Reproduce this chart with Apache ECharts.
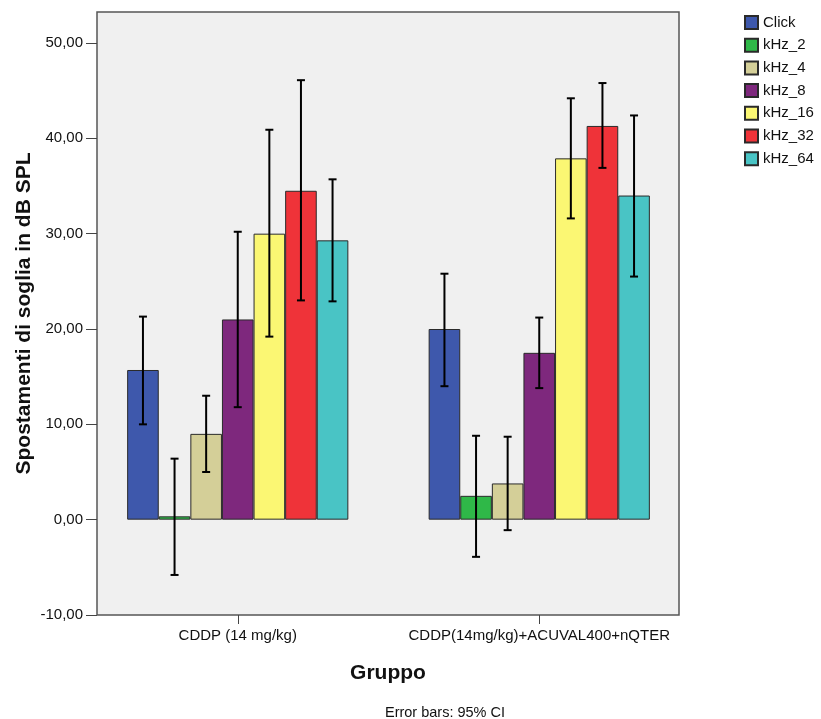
<!DOCTYPE html>
<html>
<head>
<meta charset="utf-8">
<script src="https://cdn.jsdelivr.net/npm/echarts@6/dist/echarts.min.js"></script>
<style>html,body{margin:0;padding:0;background:#fff}#c{width:821px;height:719px}</style>
</head>
<body>
<div id="c"></div>
<script>
const categories = ['CDDP (14 mg/kg)', 'CDDP(14mg/kg)+ACUVAL400+nQTER'];
const seriesNames = ['Click', 'kHz_2', 'kHz_4', 'kHz_8', 'kHz_16', 'kHz_32', 'kHz_64'];
const colors = ['#3e58ac', '#2fb848', '#d4cf98', '#7e287d', '#fbf773', '#ef3339', '#49c4c5'];
// mean values per series: [group1, group2]
const means = [
  [15.7, 20.0],
  [0.35, 2.5],
  [9.0, 3.8],
  [21.0, 17.5],
  [30.0, 37.9],
  [34.5, 41.3],
  [29.3, 34.0]
];
// 95% CI lower / upper per series: [group1, group2]
const ciLow = [
  [10.0, 14.0],
  [-5.8, -3.9],
  [5.0, -1.1],
  [11.8, 13.8],
  [19.2, 31.6],
  [23.0, 36.9],
  [22.9, 25.5]
];
const ciHigh = [
  [21.3, 25.8],
  [6.4, 8.8],
  [13.0, 8.7],
  [30.2, 21.2],
  [40.9, 44.2],
  [46.1, 45.8],
  [35.7, 42.4]
];
const yTicks = { min: -10, max: 50, interval: 10 };

const BAR_W = 31.6;
const FONT = '"Liberation Sans", Arial, sans-serif';
const chart = echarts.init(document.getElementById('c'), null, { renderer: 'canvas' });

const barSeries = seriesNames.map((name, i) => ({
  name: name,
  type: 'bar',
  xAxisIndex: 1,
  yAxisIndex: 1,
  barWidth: BAR_W,
  barGap: '0%',
  data: means[i],
  itemStyle: { color: colors[i], borderColor: '#2a2a2a', borderWidth: 1 },
  emphasis: { disabled: true },
  animation: false
}));

const errData = [];
seriesNames.forEach((n, i) => {
  categories.forEach((c, j) => {
    errData.push([j, ciLow[i][j], ciHigh[i][j], i]);
  });
});

const errSeries = {
  type: 'custom',
  xAxisIndex: 1,
  yAxisIndex: 1,
  z: 10,
  animation: false,
  silent: true,
  encode: { x: 0, y: [1, 2] },
  data: errData,
  renderItem: function (params, api) {
    const cat = api.value(0);
    const idx = api.value(3);
    const lo = api.coord([cat, api.value(1)]);
    const hi = api.coord([cat, api.value(2)]);
    const x = lo[0] + (idx - (seriesNames.length - 1) / 2) * BAR_W;
    const cap = 4;
    const style = { stroke: '#000', lineWidth: 2 };
    return {
      type: 'group',
      children: [
        { type: 'line', shape: { x1: x, y1: hi[1], x2: x, y2: lo[1] }, style: style },
        { type: 'line', shape: { x1: x - cap, y1: hi[1], x2: x + cap, y2: hi[1] }, style: style },
        { type: 'line', shape: { x1: x - cap, y1: lo[1], x2: x + cap, y2: lo[1] }, style: style }
      ]
    };
  }
};

chart.setOption({
  backgroundColor: '#ffffff',
  animation: false,
  textStyle: { fontFamily: FONT },
  grid: [
    { // frame
      left: 97, top: 12, width: 582, height: 603,
      show: true, backgroundColor: '#f0f0f0', borderColor: '#555555', borderWidth: 1.5,
      outerBoundsMode: 'none', containLabel: false
    },
    { // data
      left: 87, right: 131, top: 43, bottom: 104,
      outerBoundsMode: 'none', containLabel: false
    }
  ],
  legend: {
    orient: 'vertical',
    left: 744,
    top: 15,
    itemWidth: 13,
    itemHeight: 13,
    itemGap: 7.7,
    padding: 0,
    icon: 'rect',
    selectedMode: false,
    data: seriesNames,
    textStyle: { fontSize: 15, color: '#111', fontFamily: FONT }
  },
  xAxis: [
    {
      gridIndex: 0, type: 'value', min: 0, max: 1,
      axisLine: { show: false }, axisTick: { show: false }, axisLabel: { show: false }, splitLine: { show: false },
      name: 'Gruppo', nameLocation: 'middle', nameGap: 48,
      nameTextStyle: { fontSize: 21, fontWeight: 'bold', color: '#111', fontFamily: FONT }
    },
    {
      gridIndex: 1, type: 'category', data: categories, position: 'bottom',
      axisLine: { show: false, onZero: false },
      axisTick: { show: true, alignWithLabel: true, length: 9, lineStyle: { color: '#444', width: 1 } },
      axisLabel: { fontSize: 15, color: '#111', margin: 13, interval: 0, hideOverlap: false, fontFamily: FONT },
      splitLine: { show: false }
    }
  ],
  yAxis: [
    {
      gridIndex: 0, type: 'value', min: 0, max: 1,
      axisLine: { show: false }, axisTick: { show: false }, axisLabel: { show: false }, splitLine: { show: false },
      name: 'Spostamenti di soglia in dB SPL', nameLocation: 'middle', nameGap: 62, nameRotate: 90,
      nameTextStyle: { fontSize: 21, fontWeight: 'bold', color: '#111', fontFamily: FONT }
    },
    {
      gridIndex: 1, type: 'value', min: yTicks.min, max: yTicks.max, interval: yTicks.interval,
      offset: -10,
      axisLine: { show: false },
      axisTick: { show: true, length: 11, lineStyle: { color: '#444', width: 1 } },
      axisLabel: {
        fontSize: 15, color: '#111', margin: 14, fontFamily: FONT,
        formatter: v => v.toFixed(2).replace('.', ',')
      },
      splitLine: { show: false }
    }
  ],
  graphic: [
    {
      type: 'text', x: 445, y: 713,
      style: { text: 'Error bars: 95% CI', font: '14.5px ' + FONT, fill: '#111', align: 'center', verticalAlign: 'middle' }
    }
  ],
  series: barSeries.concat([errSeries])
});
</script>
</body>
</html>
